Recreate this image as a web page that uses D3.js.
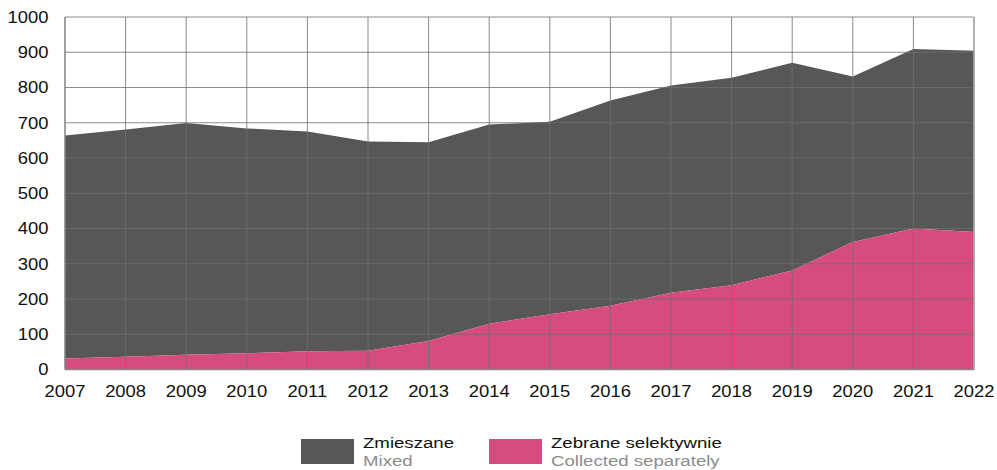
<!DOCTYPE html>
<html>
<head>
<meta charset="utf-8">
<script src="https://cdn.jsdelivr.net/npm/d3@7"></script>
<style>
  html, body { margin: 0; padding: 0; background: #fff; }
  svg { display: block; font-family: "Liberation Sans", Arial, sans-serif; }
</style>
</head>
<body>
<svg id="chart" width="997" height="470"></svg>
<script>
const years = [2007,2008,2009,2010,2011,2012,2013,2014,2015,2016,2017,2018,2019,2020,2021,2022];
const totalValues = [664,681,699,684,675,647,645,695,703,763,806,828,870,831,909,904];
const separateValues = [31,36,42,46,52,53,81,130,157,181,218,239,281,362,400,390];
const yTicks = [0,100,200,300,400,500,600,700,800,900,1000];
const seriesNames = ["Zmieszane", "Zebrane selektywnie"];
const seriesNamesEn = ["Mixed", "Collected separately"];
const colors = ["#575756", "#d64c7e"];

const svg = d3.select("#chart");
const pLeft = 65, pRight = 974, pTop = 17, pBottom = 369.5;
const stretch = 1.15;
const legendStretch = 1.21;

const x = d3.scaleLinear().domain([2007, 2022]).range([pLeft, pRight]);
const y = d3.scaleLinear().domain([0, 1000]).range([pBottom, pTop]);

const data = years.map((yr, i) => ({ yr, total: totalValues[i], sep: separateValues[i] }));

svg.append("path")
  .datum(data)
  .attr("fill", colors[0])
  .attr("d", d3.area().x(d => x(d.yr)).y0(d => y(d.sep)).y1(d => y(d.total)));

svg.append("path")
  .datum(data)
  .attr("fill", colors[1])
  .attr("d", d3.area().x(d => x(d.yr)).y0(y(0)).y1(d => y(d.sep)));

const grid = svg.append("g").attr("stroke", "#6e6e6e").attr("stroke-opacity", 0.8).attr("stroke-width", 1);
yTicks.forEach(t => {
  grid.append("line").attr("x1", pLeft).attr("x2", pRight).attr("y1", y(t)).attr("y2", y(t));
});
years.forEach(yr => {
  grid.append("line").attr("x1", x(yr)).attr("x2", x(yr)).attr("y1", pTop).attr("y2", pBottom);
});
svg.append("line").attr("x1", pLeft).attr("x2", pRight).attr("y1", pBottom).attr("y2", pBottom)
  .attr("stroke", "#888").attr("stroke-width", 1.5);
svg.append("line").attr("x1", pLeft).attr("x2", pLeft).attr("y1", pTop).attr("y2", pBottom)
  .attr("stroke", "#888").attr("stroke-width", 1.2);
svg.append("line").attr("x1", pRight).attr("x2", pRight).attr("y1", pTop).attr("y2", pBottom)
  .attr("stroke", "#aaa").attr("stroke-width", 1.5);

// Y tick labels (horizontally stretched like the reference)
svg.append("g").selectAll("g").data(yTicks).join("g")
  .attr("transform", d => `translate(48.5,${y(d)}) scale(${stretch},1)`)
  .append("text")
  .attr("text-anchor", "end").attr("dy", "0.36em")
  .attr("font-size", 16).attr("fill", "#111")
  .text(d => d3.format("d")(d));

// X tick labels
svg.append("g").selectAll("g").data(years).join("g")
  .attr("transform", d => `translate(${x(d)},397) scale(${stretch},1)`)
  .append("text")
  .attr("text-anchor", "middle")
  .attr("font-size", 16).attr("fill", "#111")
  .text(d => d3.format("d")(d));

// Legend
const legendX = [301, 489];
seriesNames.forEach((name, i) => {
  const g = svg.append("g");
  g.append("rect").attr("x", legendX[i]).attr("y", 439).attr("width", 53).attr("height", 25)
    .attr("fill", colors[i]);
  g.append("g").attr("transform", `translate(${legendX[i] + 62},447.5) scale(${legendStretch},1)`)
    .append("text").attr("font-size", 15.4).attr("fill", "#111").text(name);
  g.append("g").attr("transform", `translate(${legendX[i] + 62},465.5) scale(${legendStretch},1)`)
    .append("text").attr("font-size", 15.4).attr("fill", "#8c8c8c").text(seriesNamesEn[i]);
});
</script>
</body>
</html>
